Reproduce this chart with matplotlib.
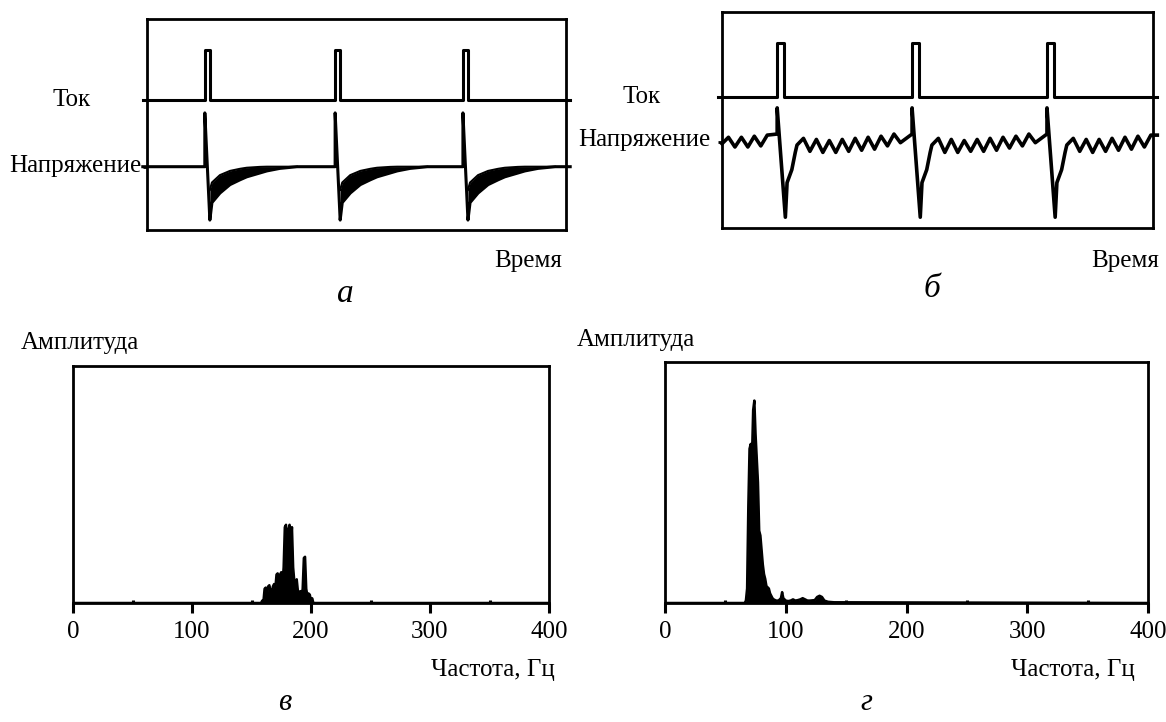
import numpy as np
import matplotlib.pyplot as plt

plt.rcParams['font.family'] = ['Liberation Serif', 'DejaVu Serif']

W, H = 1166, 722

# --- a: ток и напряжение (время 0..100, амплитуда 0..100, усл. ед.)
a_pulse_t = [13.8, 44.9, 75.4]
a_pulse_w = 1.2
a_cur_base, a_cur_top = 61.6, 85.3
a_volt_base = 30.0
a_spike, a_dip = 55.5, 4.7
# хвост после импульса: смещение от начала импульса, нижняя и верхняя огибающие
a_tail_dt = [1.2, 1.7, 3.6, 6.0, 8.4, 10.0, 13.1, 14.8, 17.9, 22.0]
a_tail_lo = [4.7, 13.0, 17.5, 21.5, 23.8, 25.2, 27.0, 28.0, 29.2, 30.0]
a_tail_hi = [19.0, 22.5, 26.0, 28.0, 29.0, 29.5, 29.9, 30.0, 30.0, 30.0]

# --- б: ток и напряжение с пульсациями
b_pulse_t = [12.8, 44.1, 75.4]
b_pulse_w = 1.6
b_cur_base, b_cur_top = 60.6, 85.6
b_spike, b_dip, b_dip_dt = 55.6, 5.0, 1.9
b_rec_dt = [2.3, 3.4, 4.2, 4.6]
b_rec_v = [21.0, 27.0, 35.0, 38.4]
b_step = 1.5
b_ripple_pre = [39.0, 42.0, 37.5, 42.0, 37.5, 42.5, 38.0, 43.0, 43.5]
b_ripple_1 = [38.4, 41.5, 35.5, 41.0, 35.0, 40.5, 35.0, 41.0, 35.5, 41.5,
              36.0, 42.0, 36.5, 42.5, 38.0, 43.5, 39.5, 43.5]
b_ripple_2 = [38.4, 41.5, 35.0, 41.0, 35.0, 40.5, 35.5, 41.0, 35.5, 41.5,
              36.0, 42.0, 37.0, 42.5, 38.0, 43.5, 39.5, 43.5]
b_ripple_3 = [38.4, 41.5, 35.5, 41.0, 35.0, 41.0, 35.5, 41.5, 36.0, 42.0,
              36.5, 42.5, 37.5, 43.0]

# --- в: спектр
c_freq = [0, 158, 159, 160, 161, 162, 163, 164, 165, 166, 167, 168, 169, 170,
          171, 172, 173, 174, 175, 176, 177, 178, 179, 180, 181, 182, 183, 184,
          185, 186, 187, 188, 189, 190, 191, 192, 193, 194, 195, 196, 197, 198,
          199, 200, 201, 202, 400]
c_amp = [0, 0, 0.01, 0.005, 0.06, 0.065, 0.03, 0.07, 0.075, 0.05, 0.04, 0.07,
         0.08, 0.06, 0.12, 0.125, 0.09, 0.12, 0.13, 0.08, 0.15, 0.32, 0.33,
         0.2, 0.31, 0.33, 0.25, 0.32, 0.15, 0.09, 0.06, 0.1, 0.05, 0.03, 0.05,
         0.03, 0.06, 0.19, 0.195, 0.06, 0.03, 0.04, 0.035, 0.01, 0.02, 0, 0]

# --- г: спектр
d_freq = [0, 66, 67, 68, 69, 70, 71, 72, 73, 74, 75, 76, 77, 78, 79, 80, 81,
          82, 83, 84, 85, 86, 87, 88, 89, 90, 92, 94, 96, 97, 98, 100, 102,
          104, 106, 108, 110, 112, 114, 116, 118, 120, 124, 126, 128, 130, 132,
          135, 140, 400]
d_amp = [0, 0, 0.01, 0.06, 0.4, 0.64, 0.66, 0.6, 0.8, 0.84, 0.7, 0.6, 0.5,
         0.3, 0.28, 0.22, 0.16, 0.12, 0.1, 0.07, 0.065, 0.06, 0.04, 0.03, 0.02,
         0.015, 0.01, 0.01, 0.02, 0.045, 0.02, 0.01, 0.008, 0.01, 0.015, 0.01,
         0.012, 0.015, 0.02, 0.015, 0.01, 0.01, 0.012, 0.025, 0.03, 0.025,
         0.01, 0.005, 0.003, 0]

freq_ticks = [0, 100, 200, 300, 400]


def px_axes(x0, y0, x1, y1):
    return fig.add_axes([x0 / W, 1 - y1 / H, (x1 - x0) / W, (y1 - y0) / H])


def ftext(x, y, s, **kw):
    fig.text(x / W, 1 - y / H, s, ha='center', va='center', **kw)


def pulse_line(ts, w, base, top):
    xs, ys = [-1], [base]
    for t in ts:
        xs += [t, t, t + w, t + w]
        ys += [base, top, top, base]
    xs.append(101)
    ys.append(base)
    return xs, ys


def style_trace_axes(ax, ticks):
    ax.set_xlim(0, 100)
    ax.set_ylim(0, 100)
    ax.set_xticks([])
    ax.set_yticks(ticks)
    ax.set_yticklabels([])
    ax.tick_params(axis='y', direction='out', length=3, width=2)
    for s in ax.spines.values():
        s.set_linewidth(2)


fig = plt.figure(figsize=(W / 100, H / 100), dpi=100)
lw = 2.2

# ---------- а
ax = px_axes(147, 19, 566, 230)
xs, ys = pulse_line(a_pulse_t, a_pulse_w, a_cur_base, a_cur_top)
ax.plot(xs, ys, color='k', lw=lw, clip_on=False)
vx, vy = [-1], [a_volt_base]
for t in a_pulse_t:
    vx += [t, t, t + a_pulse_w]
    vy += [a_volt_base, a_spike, a_dip]
    vx += [t + d for d in a_tail_dt]
    vy += a_tail_lo
    tt = [t + d for d in a_tail_dt]
    ax.fill_between(tt, a_tail_lo, a_tail_hi, color='k', lw=0)
    ax.plot(tt, a_tail_hi, color='k', lw=1.5)
vx.append(101)
vy.append(a_volt_base)
ax.plot(vx, vy, color='k', lw=lw, clip_on=False, solid_joinstyle='round')
style_trace_axes(ax, [a_cur_base, a_volt_base])

# ---------- б
ax = px_axes(722, 12, 1153, 228)
xs, ys = pulse_line(b_pulse_t, b_pulse_w, b_cur_base, b_cur_top)
ax.plot(xs, ys, color='k', lw=lw, clip_on=False)
vx = [i * b_step for i in range(len(b_ripple_pre) - 1)] + [b_pulse_t[0]]
vy = list(b_ripple_pre)
ends = b_pulse_t[1:] + [None]
for t, rip, t_next in zip(b_pulse_t, [b_ripple_1, b_ripple_2, b_ripple_3], ends):
    vx += [t, t + b_dip_dt]
    vy += [b_spike, b_dip]
    vx += [t + d for d in b_rec_dt]
    vy += b_rec_v
    start = t + b_rec_dt[-1]
    rx = [start + (i + 1) * b_step for i in range(len(rip) - 1)]
    if t_next is not None:
        rx[-1] = t_next
    vx += rx
    vy += rip[1:]
vx.append(101)
vy.append(vy[-1])
ax.plot(vx, vy, color='k', lw=2.6, clip_on=False, solid_joinstyle='round')
style_trace_axes(ax, [b_cur_base, 40.0])


# ---------- в, г
def spectrum(ax, f, a):
    ax.fill_between(f, 0, a, color='k', lw=0)
    ax.plot(f, a, color='k', lw=1.8)
    ax.set_xlim(0, 400)
    ax.set_ylim(0, 1)
    ax.set_yticks([])
    ax.set_xticks(freq_ticks)
    ax.set_xticklabels([str(v) for v in freq_ticks], fontsize=18)
    ax.set_xticks([50, 150, 250, 350], minor=True)
    ax.tick_params(axis='x', which='major', direction='out', length=7,
                   width=2.2, pad=6)
    ax.tick_params(axis='x', which='minor', direction='in', length=2.5,
                   width=2.2)
    for s in ax.spines.values():
        s.set_linewidth(2)


spectrum(px_axes(73, 366, 549, 603), c_freq, c_amp)
spectrum(px_axes(665, 362, 1148, 603), d_freq, d_amp)

fs = 18
ftext(72, 100, 'Ток', fontsize=fs)
ftext(75, 166, 'Напряжение', fontsize=fs)
ftext(528, 261, 'Время', fontsize=fs)
ftext(642, 97, 'Ток', fontsize=fs)
ftext(644, 140, 'Напряжение', fontsize=fs)
ftext(1125, 261, 'Время', fontsize=fs)
ftext(80, 343, 'Амплитуда', fontsize=fs)
ftext(636, 340, 'Амплитуда', fontsize=fs)
ftext(493, 670, 'Частота, Гц', fontsize=fs)
ftext(1073, 670, 'Частота, Гц', fontsize=fs)
ftext(345, 294, 'а', fontsize=24, style='italic')
ftext(932, 289, 'б', fontsize=24, style='italic')
ftext(285, 703, 'в', fontsize=22, style='italic')
ftext(866, 703, 'г', fontsize=22, style='italic')

fig.savefig('out.png', dpi=100)
